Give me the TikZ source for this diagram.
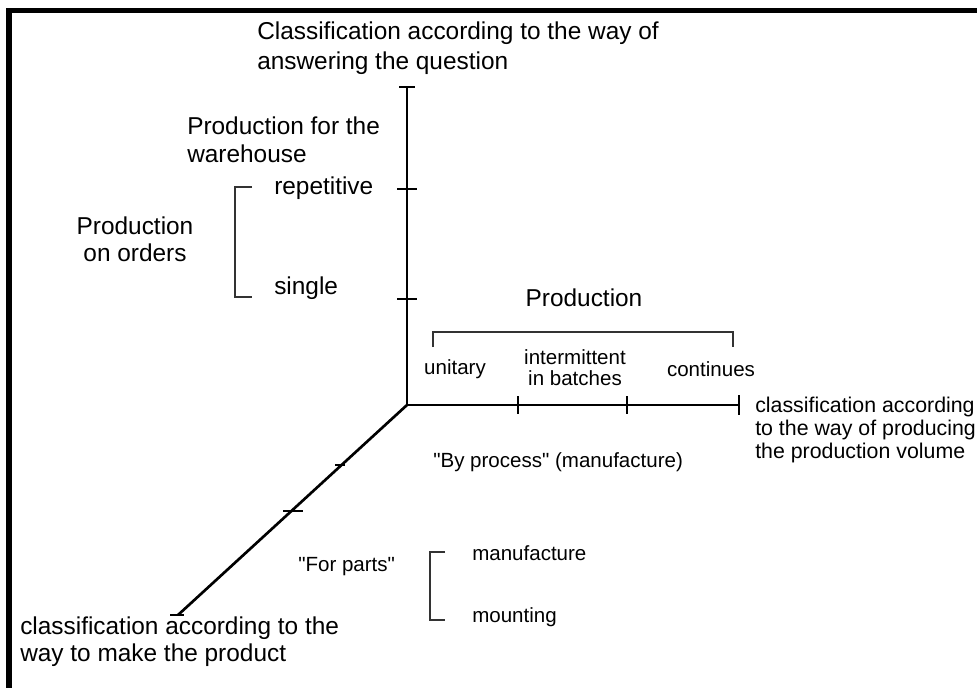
\documentclass[tikz,border=0pt]{standalone}
\usepackage{fontspec}
\setmainfont{Liberation Sans}
\usetikzlibrary{positioning}

\begin{document}
\begin{tikzpicture}[x=0.75pt,y=-0.75pt,
  big/.style={font=\fontsize{18.3}{21}\selectfont,inner sep=0pt,align=left},
  small/.style={font=\fontsize{15.4}{15.8}\selectfont,inner sep=0pt,align=center},
  axis/.style={line width=1.6pt},
  brak/.style={line width=1.3pt,draw=black!80}]
\useasboundingbox (0,0) rectangle (977,688);
\draw[line width=3.8pt] (9,688) -- (9,10.5) -- (977,10.5);

\coordinate (o) at (407,405);
\coordinate (vtop) at (407,87);
\coordinate (v1) at (407,189);
\coordinate (v2) at (407,299);
\coordinate (hend) at (739,405);
\coordinate (h1) at (518,405);
\coordinate (h2) at (627,405);
\coordinate (dend) at (178,615);
\coordinate (d1) at (340,465);
\coordinate (d2) at (293,511);

\draw[axis] (vtop) -- (o);
\draw[axis] (o) -- (hend);
\draw[axis,line width=2pt] (o) -- (dend);
\draw[axis] (vtop) +(-8,0) -- +(8,0);
\draw[axis] (v1) +(-10,0) -- +(10,0);
\draw[axis] (v2) +(-10,0) -- +(10,0);
\draw[axis] (h1) +(0,-9) -- +(0,9);
\draw[axis] (h2) +(0,-9) -- +(0,9);
\draw[axis] (hend) +(0,-10) -- +(0,10);
\draw[axis,line width=1pt] (d1) +(-5,0) -- +(5,0);
\draw[axis] (d2) +(-10,0) -- +(10,0);
\draw[axis] (dend) +(-8,0) -- +(6,0);

\node[big,anchor=west,font=\fontsize{18.3}{22.5}\selectfont] (toplbl) at (257,48) {Classification according to the way of\\answering the question};
\node[big,anchor=west] (whouse) at (187,140) {Production for the\\warehouse};
\node[big,anchor=west] (rep) at (274,188) {repetitive};
\node[big,anchor=west] (sing) at (274,288) {single};
\node[big,align=center,font=\fontsize{18.3}{20.25}\selectfont] (orders) at (135,239.5) {Production\\on orders};
\node[big] (prod) at (584,298) {Production};
\node[small] (unit) at (455,369) {unitary};
\node[small] (inter) at (575,367.5) {intermittent\\in batches};
\node[small] (cont) at (711,369) {continues};
\node[big,anchor=west,font=\fontsize{16}{17.25}\selectfont] (rlbl) at (755,430) {classification according\\to the way of producing\\the production volume};
\node[small,anchor=west] (byproc) at (433,462) {\textquotedbl By process\textquotedbl{} (manufacture)};
\node[small,anchor=west] (parts) at (298,567) {\textquotedbl For parts\textquotedbl};
\node[small,anchor=west] (manu) at (472,553) {manufacture};
\node[small,anchor=west] (mount) at (472,617) {mounting};
\node[big,anchor=west,font=\fontsize{18.3}{20.25}\selectfont] (blbl) at (20,641.5) {classification according to the\\way to make the product};

\draw[brak] (252,187) -- (235,187) -- (235,297) -- (252,297);
\draw[brak] (433,347) -- (433,332) -- (733,332) -- (733,347);
\draw[brak] (445,552) -- (430,552) -- (430,620) -- (445,620);
\end{tikzpicture}
\end{document}
